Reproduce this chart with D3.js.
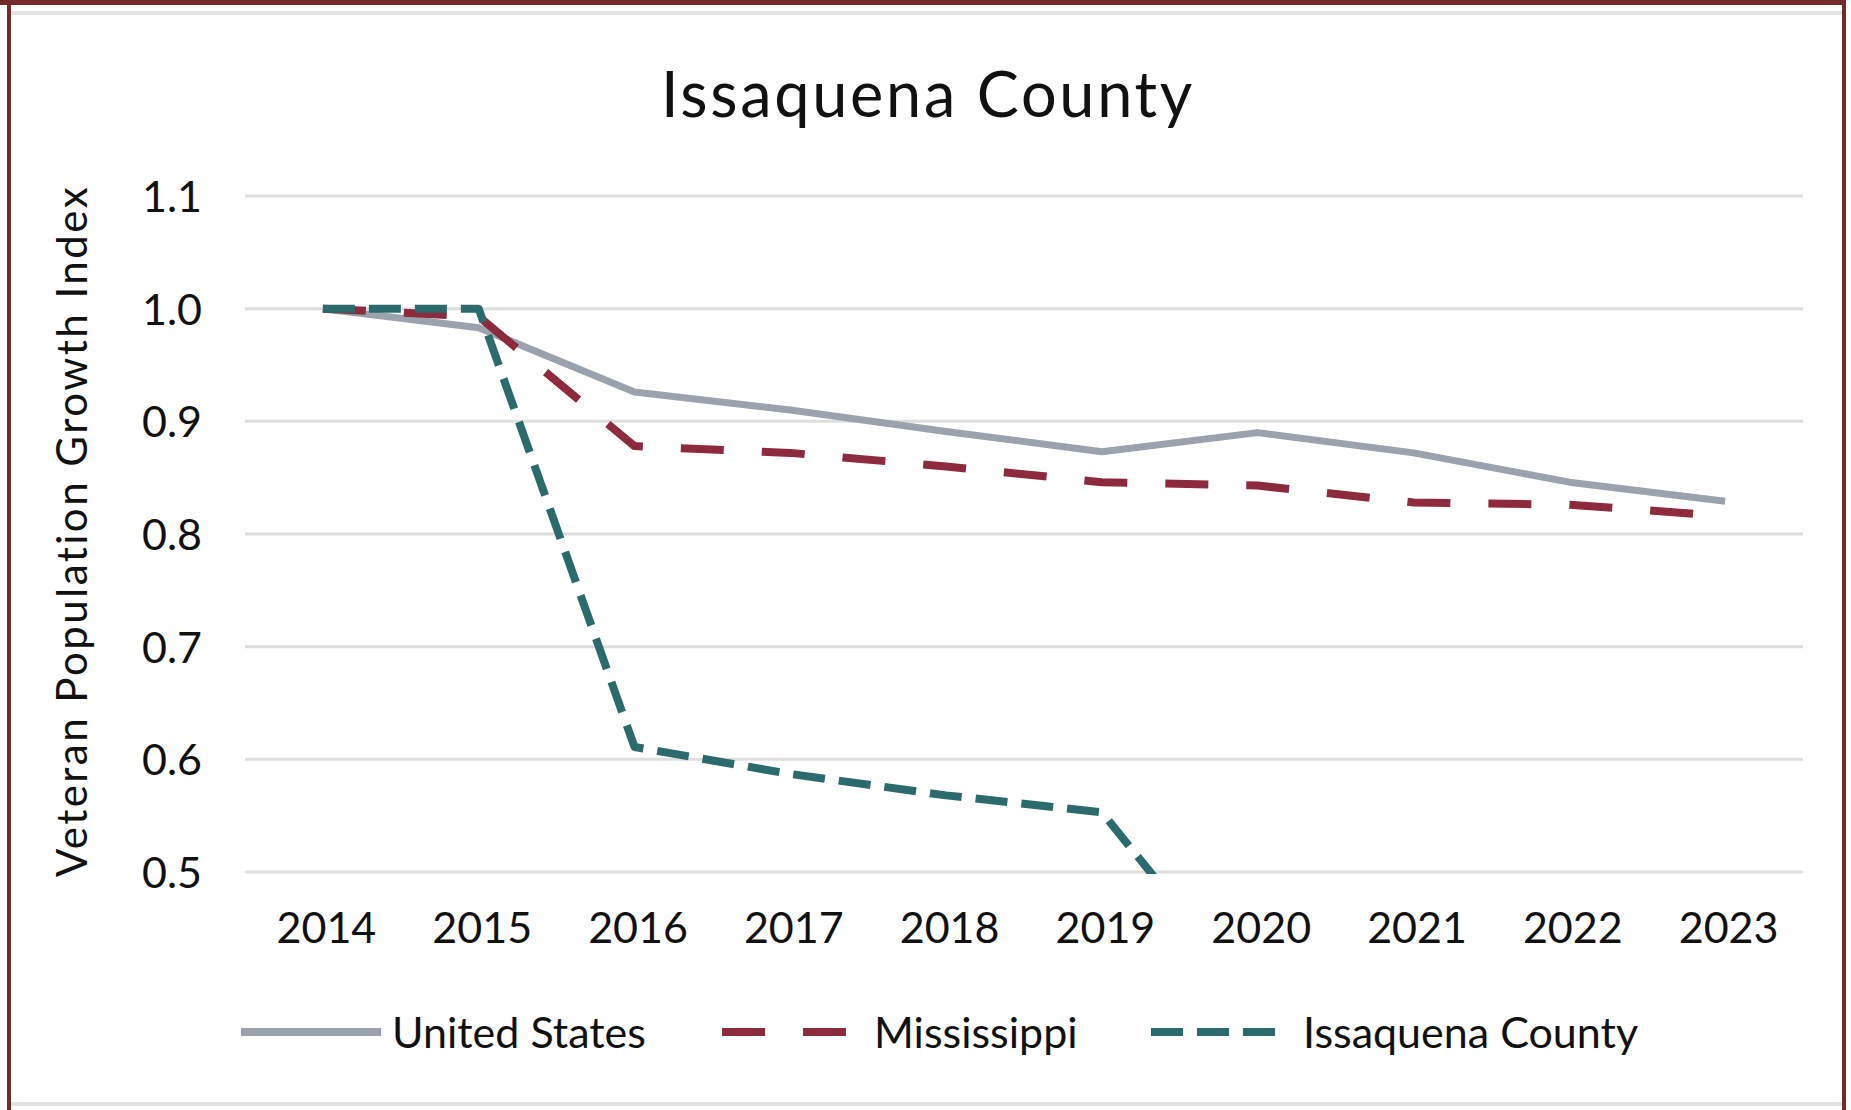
<!DOCTYPE html>
<html>
<head>
<meta charset="utf-8">
<script src="https://cdn.jsdelivr.net/npm/d3@7"></script>
<style>
  body { margin: 0; background: #fff; }
  text { font-family: Lato, "Open Sans", sans-serif; fill: #111; }
</style>
</head>
<body>
<div id="container"></div>
<script>
const years = [2014, 2015, 2016, 2017, 2018, 2019, 2020, 2021, 2022, 2023]
const unitedStates = [1.0, 0.983, 0.926, 0.910, 0.891, 0.873, 0.890, 0.872, 0.846, 0.829]
const mississippi = [1.0, 0.993, 0.878, 0.872, 0.860, 0.846, 0.843, 0.828, 0.826, 0.816]
// values after 2020 fall below the axis floor and can't be read
const issaquena = [1.0, 1.0, 0.611, 0.587, 0.568, 0.553, 0.382, null, null, null]
const yTicks = [0.5, 0.6, 0.7, 0.8, 0.9, 1.0, 1.1]
const seriesNames = ["United States", "Mississippi", "Issaquena County"]

const width = 1851
const height = 1110
const margin = {top: 196, bottom: 238, left: 245, right: 48}

const colors = {us: "#9AA3AD", ms: "#8E2A3D", iq: "#2B6B6D"}

const svg = d3.select("#container").append("svg")
    .attr("width", width)
    .attr("height", height)

svg.append("rect").attr("width", width).attr("height", height).attr("fill", "#fff")

// frame
svg.append("rect").attr("x", 0).attr("y", 0).attr("width", width - 5).attr("height", 5).attr("fill", "#722B2A")
svg.append("rect").attr("x", 7).attr("y", 0).attr("width", 4).attr("height", height).attr("fill", "#722B2A")
svg.append("rect").attr("x", 1842).attr("y", 0).attr("width", 4).attr("height", height).attr("fill", "#722B2A")
svg.append("rect").attr("x", 11).attr("y", 11).attr("width", 1831).attr("height", 4).attr("fill", "#E4E4E4")
svg.append("rect").attr("x", 11).attr("y", 1102).attr("width", 1831).attr("height", 4).attr("fill", "#E4E4E4")

const x = d3.scalePoint()
    .domain(years)
    .range([margin.left, width - margin.right])
    .padding(0.5)

const y = d3.scaleLinear()
    .domain([0.5, 1.1])
    .range([height - margin.bottom, margin.top])

svg.append("text")
    .attr("x", 928)
    .attr("y", 117)
    .attr("text-anchor", "middle")
    .style("font-size", "63px")
    .style("letter-spacing", "2.7px")
    .text("Issaquena County")

// gridlines
svg.append("g")
    .selectAll("line")
    .data(yTicks)
    .join("line")
    .attr("x1", margin.left)
    .attr("x2", width - margin.right)
    .attr("y1", d => y(d))
    .attr("y2", d => y(d))
    .attr("stroke", "#DEDEDE")
    .attr("stroke-width", 3)

const yAxis = svg.append("g")
    .attr("transform", `translate(${margin.left - 43}, 0)`)
    .call(d3.axisLeft(y).tickValues(yTicks).tickFormat(d3.format(".1f")).tickSize(0).tickPadding(0))
yAxis.select(".domain").remove()
yAxis.selectAll("text")
    .style("font-size", "43px")
    .attr("font-family", null)
    .attr("dy", "0.36em")

const xAxis = svg.append("g")
    .attr("transform", `translate(0, ${height - margin.bottom})`)
    .call(d3.axisBottom(x).tickSize(0).tickPadding(0))
xAxis.select(".domain").remove()
xAxis.selectAll("text")
    .style("font-size", "43px")
    .attr("y", 71)
    .attr("dy", 0)
    .attr("dx", 3)

svg.append("text")
    .attr("transform", `translate(87, 531) rotate(-90)`)
    .attr("text-anchor", "middle")
    .style("font-size", "42px")
    .style("letter-spacing", "2.5px")
    .text("Veteran Population Growth Index")

svg.append("clipPath").attr("id", "plot-clip")
    .append("rect")
    .attr("x", 0).attr("y", margin.top - 10)
    .attr("width", width).attr("height", height - margin.top - margin.bottom + 12)

const line = d3.line()
    .defined(d => d[1] != null)
    .x(d => x(d[0]))
    .y(d => y(d[1]))

const series = [
    {values: unitedStates, color: colors.us, dash: null},
    {values: mississippi, color: colors.ms, dash: "43,38"},
    {values: issaquena, color: colors.iq, dash: "32,14"}
]

svg.append("g")
    .attr("clip-path", "url(#plot-clip)")
    .selectAll("path")
    .data(series)
    .join("path")
    .attr("d", s => line(years.map((yr, i) => [yr, s.values[i]])))
    .attr("fill", "none")
    .attr("stroke", s => s.color)
    .attr("stroke-width", s => s.dash ? 8 : 7)
    .attr("stroke-dasharray", s => s.dash)
    .attr("stroke-linejoin", "round")

// legend
const legendItems = [
    {name: seriesNames[0], color: colors.us, dash: null, x1: 241, x2: 381, tx: 392},
    {name: seriesNames[1], color: colors.ms, dash: "43,38", x1: 722, x2: 848, tx: 874},
    {name: seriesNames[2], color: colors.iq, dash: "32,14", x1: 1151, x2: 1277, tx: 1303}
]
const legend = svg.append("g").attr("id", "legend")
legend.selectAll("line")
    .data(legendItems)
    .join("line")
    .attr("x1", d => d.x1)
    .attr("x2", d => d.x2)
    .attr("y1", 1032)
    .attr("y2", 1032)
    .attr("stroke", d => d.color)
    .attr("stroke-width", 8)
    .attr("stroke-dasharray", d => d.dash)
legend.selectAll("text")
    .data(legendItems)
    .join("text")
    .attr("x", d => d.tx)
    .attr("y", 1048)
    .style("font-size", "43px")
    .text(d => d.name)
</script>
</body>
</html>
